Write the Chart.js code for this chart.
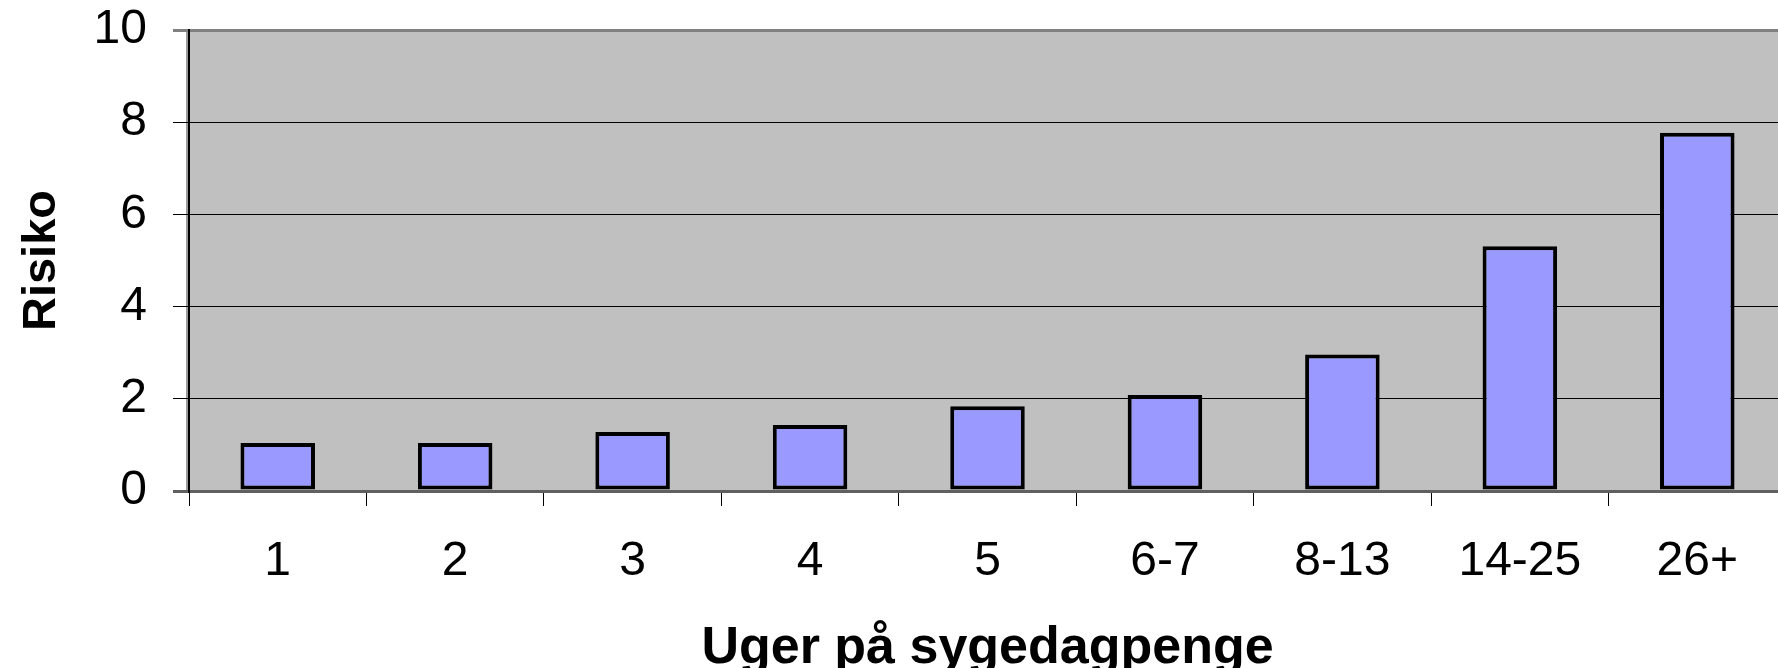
<!DOCTYPE html>
<html>
<head>
<meta charset="utf-8">
<script src="https://cdn.jsdelivr.net/npm/chart.js@4/dist/chart.umd.min.js"></script>
<style>
  html, body { margin: 0; padding: 0; background: #ffffff; overflow: hidden; }
  #wrap { width: 1778px; height: 668px; overflow: hidden; position: relative; }
  canvas { display: block; }
</style>
</head>
<body>
<div id="wrap"><canvas id="c" width="1786" height="680" style="width:1786px;height:680px"></canvas></div>
<script>
const categories = ['1', '2', '3', '4', '5', '6-7', '8-13', '14-25', '26+'];
const risiko = [1.04, 1.04, 1.28, 1.43, 1.84, 2.08, 2.96, 5.31, 7.77];
const yTickValues = [0, 2, 4, 6, 8, 10];
const xTitle = 'Uger på sygedagpenge';
const yTitle = 'Risiko';

const FONT = "'Liberation Sans', Arial, Helvetica, sans-serif";

const plotBg = {
  id: 'plotBg',
  beforeDraw(chart) {
    const {ctx, chartArea: a} = chart;
    ctx.save();
    ctx.fillStyle = '#C0C0C0';
    ctx.fillRect(a.left, a.top, a.right - a.left, a.bottom - a.top);
    ctx.strokeStyle = '#9a9a9a';
    ctx.lineWidth = 3;
    ctx.beginPath();
    ctx.moveTo(a.left - 1.5, a.bottom);
    ctx.lineTo(a.left - 1.5, a.top);
    ctx.stroke();
    ctx.restore();
  }
};

function zeroPad(scale) {
  scale.paddingTop = 0; scale.paddingBottom = 0;
  scale.paddingLeft = 0; scale.paddingRight = 0;
}

new Chart(document.getElementById('c'), {
  type: 'bar',
  data: {
    labels: categories,
    datasets: [{
      data: risiko,
      backgroundColor: '#9999FF',
      borderColor: '#000000',
      borderWidth: 4,
      borderSkipped: false,
      barPercentage: 0.42,
      categoryPercentage: 1.0
    }]
  },
  options: {
    responsive: false,
    animation: false,
    devicePixelRatio: 1,
    layout: { padding: { top: 30, left: 0, right: 0, bottom: 0 } },
    plugins: { legend: { display: false }, tooltip: { enabled: false } },
    scales: {
      x: {
        offset: true,
        grid: {
          display: true,
          drawOnChartArea: false,
          drawTicks: true,
          tickLength: 15,
          color: '#000000',
          lineWidth: 1,
          offset: true
        },
        border: { display: true, color: '#606060', width: 3 },
        ticks: {
          color: '#000000',
          font: { family: FONT, size: 48, lineHeight: 1.2 },
          padding: 27,
          maxRotation: 0,
          minRotation: 0,
          autoSkip: false
        },
        title: {
          display: true,
          text: xTitle,
          color: '#000000',
          font: { family: FONT, size: 52, weight: 'bold', lineHeight: 1 },
          padding: { top: 0, bottom: 5 }
        },
        afterFit(scale) { scale.height = 189; zeroPad(scale); }
      },
      y: {
        min: 0,
        max: 10,
        afterBuildTicks(scale) { scale.ticks = yTickValues.map(v => ({ value: v })); },
        grid: {
          display: true,
          drawOnChartArea: true,
          drawTicks: true,
          tickLength: 16,
          color: (c) => c.tick && c.tick.value === 10 ? '#808080' : (c.tick && c.tick.value === 0 ? '#606060' : '#000000'),
          lineWidth: (c) => c.tick && (c.tick.value === 10 || c.tick.value === 0) ? 3 : 1
        },
        border: { display: true, color: '#000000', width: 2 },
        ticks: {
          color: '#000000',
          font: { family: FONT, size: 48, lineHeight: 1.2 },
          padding: 26
        },
        title: {
          display: true,
          text: yTitle,
          color: '#000000',
          font: { family: FONT, size: 47, weight: 'bold', lineHeight: 1 },
          padding: { top: 19, bottom: 0 }
        },
        afterFit(scale) { scale.width = 189; zeroPad(scale); }
      }
    }
  },
  plugins: [plotBg]
});
</script>
</body>
</html>
